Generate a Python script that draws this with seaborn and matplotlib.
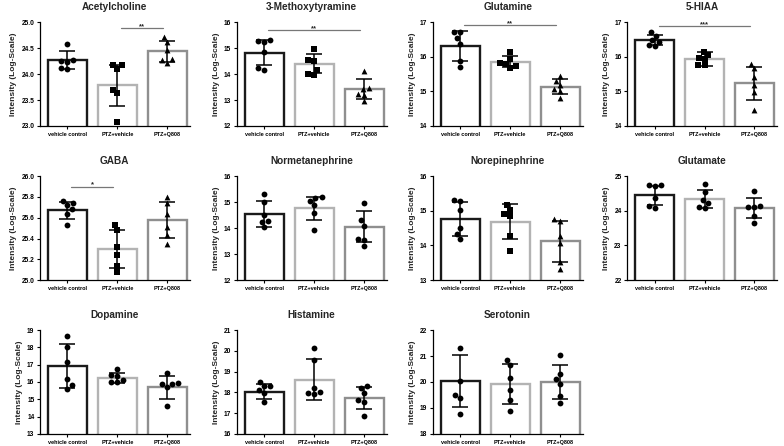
import numpy as np
import pandas as pd
import matplotlib
matplotlib.use("Agg")
import matplotlib.pyplot as plt
import seaborn as sns

GROUPS = ["vehicle control", "PTZ+vehicle", "PTZ+Q808"]
EDGE_COLORS = ["#1a1a1a", "#b3b3b3", "#8f8f8f"]

METABOLITES = ["Acetylcholine", "3-Methoxytyramine", "Glutamine", "5-HIAA",
               "GABA", "Normetanephrine", "Norepinephrine", "Glutamate",
               "Dopamine", "Histamine", "Serotonin"]

# bar heights (group means)
MEANS = {
    "Acetylcholine": [24.27, 23.78, 24.44],
    "3-Methoxytyramine": [14.82, 14.40, 13.41],
    "Glutamine": [16.31, 15.85, 15.14],
    "5-HIAA": [16.47, 15.93, 15.23],
    "GABA": [25.67, 25.30, 25.58],
    "Normetanephrine": [14.55, 14.77, 14.05],
    "Norepinephrine": [14.77, 14.69, 14.12],
    "Glutamate": [24.45, 24.35, 24.08],
    "Dopamine": [16.93, 16.22, 15.69],
    "Histamine": [18.03, 18.62, 17.72],
    "Serotonin": [20.02, 19.92, 20.00],
}

# SD error bars
SDS = {
    "Acetylcholine": [0.17, 0.40, 0.20],
    "3-Methoxytyramine": [0.49, 0.37, 0.39],
    "Glutamine": [0.42, 0.16, 0.22],
    "5-HIAA": [0.145, 0.195, 0.47],
    "GABA": [0.085, 0.185, 0.175],
    "Normetanephrine": [0.50, 0.44, 0.60],
    "Norepinephrine": [0.49, 0.51, 0.60],
    "Glutamate": [0.28, 0.265, 0.30],
    "Dopamine": [1.25, 0.30, 0.65],
    "Histamine": [0.37, 1.00, 0.52],
    "Serotonin": [1.00, 0.77, 0.65],
}

# individual samples per group
POINTS = {
    "Acetylcholine": [[24.58, 24.25, 24.27, 24.24, 24.12, 24.10],
                      [24.18, 24.17, 24.10, 23.70, 23.63, 23.08],
                      [24.72, 24.62, 24.47, 24.28, 24.27, 24.22]],
    "3-Methoxytyramine": [[15.32, 15.28, 15.22, 14.85, 14.25, 14.17],
                          [14.95, 14.55, 14.50, 14.15, 14.00, 13.95],
                          [14.10, 13.45, 13.42, 13.25, 13.20, 12.97]],
    "Glutamine": [[16.72, 16.70, 16.53, 16.38, 15.88, 15.69],
                  [16.15, 15.92, 15.82, 15.80, 15.72, 15.68],
                  [15.45, 15.30, 15.17, 15.07, 15.00, 14.80]],
    "5-HIAA": [[16.70, 16.60, 16.47, 16.43, 16.33, 16.32],
               [16.15, 16.05, 15.96, 15.92, 15.77, 15.75],
               [15.80, 15.67, 15.40, 15.18, 14.98, 14.46]],
    "GABA": [[25.76, 25.74, 25.72, 25.68, 25.64, 25.53],
             [25.53, 25.48, 25.32, 25.24, 25.14, 25.08],
             [25.80, 25.74, 25.64, 25.51, 25.43, 25.35]],
    "Normetanephrine": [[15.32, 15.00, 14.50, 14.27, 14.24, 14.03],
                        [15.20, 15.16, 15.05, 14.88, 14.60, 13.93],
                        [14.97, 14.30, 14.10, 13.60, 13.55, 13.32]],
    "Norepinephrine": [[15.30, 15.28, 15.01, 14.50, 14.34, 14.19],
                       [15.18, 15.03, 14.90, 14.84, 14.27, 13.85],
                       [14.75, 14.72, 14.28, 14.06, 13.53, 13.32]],
    "Glutamate": [[24.75, 24.74, 24.72, 24.36, 24.14, 24.07],
                  [24.76, 24.55, 24.31, 24.23, 24.12, 24.09],
                  [24.58, 24.14, 24.12, 24.10, 23.86, 23.66]],
    "Dopamine": [[18.66, 18.04, 17.18, 16.15, 15.85, 15.60],
                 [16.74, 16.42, 16.36, 16.10, 16.00, 15.98],
                 [16.52, 15.92, 15.90, 15.88, 15.70, 14.60]],
    "Histamine": [[18.48, 18.33, 18.30, 18.10, 17.95, 17.52],
                  [20.13, 19.55, 18.23, 18.03, 17.95, 17.93],
                  [18.33, 18.20, 17.95, 17.63, 17.53, 16.87]],
    "Serotonin": [[21.30, 20.05, 19.50, 19.37, 18.77],
                  [20.85, 20.65, 20.14, 19.69, 19.30, 18.90],
                  [21.02, 20.30, 20.10, 19.92, 19.48, 19.18]],
}

# y axis: (min, max, step)
YAXES = {
    "Acetylcholine": (23, 25, 0.5),
    "3-Methoxytyramine": (12, 16, 1),
    "Glutamine": (14, 17, 1),
    "5-HIAA": (14, 17, 1),
    "GABA": (25, 26, 0.2),
    "Normetanephrine": (12, 16, 1),
    "Norepinephrine": (13, 16, 1),
    "Glutamate": (22, 25, 1),
    "Dopamine": (13, 19, 1),
    "Histamine": (16, 21, 1),
    "Serotonin": (18, 22, 1),
}

SHAPES3 = ["o", "s", "^"]
ROUND3 = ["o", "o", "o"]
MARKERS = {m: SHAPES3 for m in ["Acetylcholine", "3-Methoxytyramine", "Glutamine",
                                "5-HIAA", "GABA", "Norepinephrine"]}

# significance brackets: (from group, to group, height, stars)
SIG = {
    "Acetylcholine": (1, 2, 24.88, "**"),
    "3-Methoxytyramine": (0, 2, 15.69, "**"),
    "Glutamine": (0, 2, 16.91, "**"),
    "5-HIAA": (0, 2, 16.88, "***"),
    "GABA": (0, 1, 25.90, "*"),
}

sns.set_style("ticks")
plt.rcParams["font.family"] = ["Liberation Sans", "DejaVu Sans"]

fig = plt.figure(figsize=(7.84, 4.46), dpi=100)
col_left = [0.051, 0.302, 0.552, 0.800]
row_bottom = [0.7175, 0.372, 0.027]
ax_w, ax_h = 0.191, 0.233

for i, name in enumerate(METABOLITES):
    r, c = divmod(i, 4)
    ax = fig.add_axes([col_left[c], row_bottom[r], ax_w, ax_h])

    sns.barplot(x=GROUPS, y=MEANS[name], hue=GROUPS, order=GROUPS,
                palette=dict(zip(GROUPS, EDGE_COLORS)), fill=False,
                linewidth=1.7, width=0.78, errorbar=None, legend=False, ax=ax)

    ax.errorbar(np.arange(3), MEANS[name], yerr=SDS[name], fmt="none",
                ecolor="black", elinewidth=1.1, capsize=6, capthick=1.1, zorder=4)

    markers = MARKERS.get(name, ROUND3)
    for g, grp in enumerate(GROUPS):
        vals = POINTS[name][g]
        sns.swarmplot(x=[grp] * len(vals), y=vals, order=GROUPS, color="black",
                      marker=markers[g], size=4.2, linewidth=0, ax=ax, zorder=5)

    lo, hi, step = YAXES[name]
    ax.set_ylim(lo, hi)
    ticks = np.arange(lo, hi + step / 2, step)
    ax.set_yticks(ticks)
    fmt = "{:.1f}" if step < 1 else "{:.0f}"
    ax.set_yticklabels([fmt.format(t) for t in ticks], fontsize=4.8, fontweight="bold")
    ax.set_xlim(-0.55, 2.45)
    ax.set_xticks(range(3))
    ax.set_xticklabels(GROUPS, fontsize=4.0, fontweight="bold")
    ax.set_xlabel("")
    ax.set_ylabel("Intensity (Log-Scale)", fontsize=6, fontweight="bold", labelpad=3)
    ax.set_title(name, fontsize=7.2, fontweight="bold", pad=9)

    ax.tick_params(axis="both", length=2.5, width=0.8, pad=1.5, colors="black")
    for s in ["left", "bottom"]:
        ax.spines[s].set_linewidth(0.9)
        ax.spines[s].set_color("black")
    sns.despine(ax=ax)

    if name in SIG:
        a, b, yline, stars = SIG[name]
        ax.plot([a + 0.08, b - 0.08], [yline, yline], color="#777777", lw=0.9,
                clip_on=False)
        ax.annotate(stars, xy=((a + b) / 2, yline), xytext=(0, -1.5),
                    textcoords="offset points", ha="center", va="bottom",
                    fontsize=5.5, fontweight="bold", annotation_clip=False)

fig.savefig("out.png", dpi=100)
